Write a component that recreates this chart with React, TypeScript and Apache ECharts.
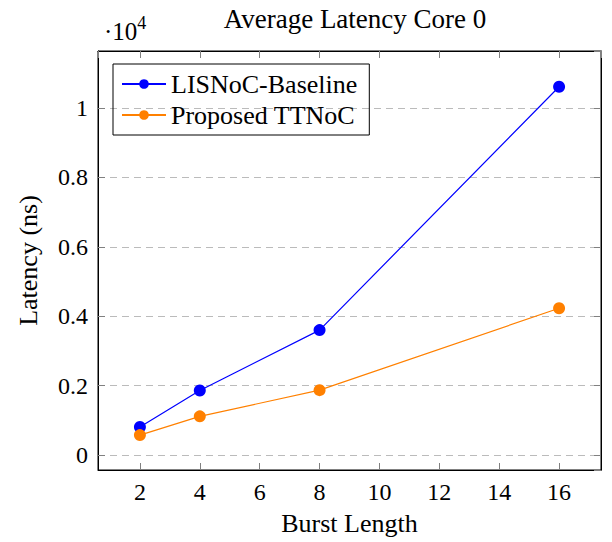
import React, { useEffect, useRef } from "react";
import * as echarts from "echarts";

const burstLengths = [2, 4, 8, 16];
const baselineLatency = [810, 1860, 3600, 10610];
const proposedLatency = [575, 1115, 1870, 4230];
const seriesNames = ["LISNoC-Baseline", "Proposed TTNoC"];
const titleText = "Average Latency Core 0";
const xName = "Burst Length";
const yName = "Latency (ns)";

const FONT = "'Liberation Serif', 'Times New Roman', serif";

export default function App() {
  const ref = useRef<HTMLDivElement>(null);
  useEffect(() => {
    document.body.style.margin = "0";
    if (!ref.current) return;
    const chart = echarts.init(ref.current, undefined, { renderer: "svg" });
    const xMin = 0.6, xMax = 17.4, yMin = -430, yMax = 11640;
    const tickStyle = { show: true, inside: true, length: 7, lineStyle: { color: "#808080", width: 1 } };
    const xFmt = (v: number) => (Math.abs(v - Math.round(v)) < 1e-6 && Math.round(v) % 2 === 0 ? String(Math.round(v)) : "");
    const yFmt = (v: number) => (Math.abs(v % 2000) < 1e-6 ? String(Math.round(v / 100) / 100) : "");
    chart.setOption({
      animation: false,
      textStyle: { fontFamily: FONT },
      title: {
        text: titleText,
        left: 350,
        textAlign: "center",
        top: 0,
        textStyle: { fontFamily: FONT, fontSize: 27, fontWeight: "normal", color: "#000" },
      },
      graphic: [
        {
          type: "text",
          left: 104,
          top: 14,
          style: {
            text: "{a|·10}{b|4}",
            rich: {
              a: { fontFamily: FONT, fontSize: 25, fill: "#000", verticalAlign: "bottom" },
              b: { fontFamily: FONT, fontSize: 18, fill: "#000", verticalAlign: "top", padding: [0, 0, 12, 0] },
            },
          },
        },
      ],
      legend: {
        orient: "vertical",
        left: 113,
        top: 64,
        data: seriesNames,
        borderColor: "#000",
        borderWidth: 1,
        borderRadius: 0,
        padding: [7, 12, 7, 8],
        itemGap: 5,
        itemWidth: 44,
        itemHeight: 12,
        textStyle: { fontFamily: FONT, fontSize: 26, color: "#000" },
      },
      grid: { left: 98, right: 11, top: 51, bottom: 72, show: true, borderColor: "#000", borderWidth: 1, containLabel: false },
      xAxis: [
        {
          type: "value",
          min: xMin,
          max: xMax,
          splitNumber: 8,
          name: xName,
          nameLocation: "middle",
          nameGap: 40,
          nameTextStyle: { fontFamily: FONT, fontSize: 26, color: "#000" },
          axisLine: { show: true, onZero: false, lineStyle: { color: "#000" } },
          axisTick: tickStyle,
          axisLabel: { show: true, showMinLabel: false, showMaxLabel: false, margin: 10, formatter: xFmt, fontFamily: FONT, fontSize: 24, color: "#000" },
          splitLine: { show: false },
        },
        {
          type: "value",
          position: "top",
          min: xMin,
          max: xMax,
          splitNumber: 8,
          axisLine: { show: true, onZero: false, lineStyle: { color: "#000" } },
          axisTick: tickStyle,
          axisLabel: { show: false },
          splitLine: { show: false },
        },
      ],
      yAxis: [
        {
          type: "value",
          min: yMin,
          max: yMax,
          splitNumber: 6,
          name: yName,
          nameLocation: "middle",
          nameGap: 57,
          nameTextStyle: { fontFamily: FONT, fontSize: 26, color: "#000" },
          axisLine: { show: true, onZero: false, lineStyle: { color: "#000" } },
          axisTick: tickStyle,
          axisLabel: { show: true, showMinLabel: false, showMaxLabel: false, margin: 10, formatter: yFmt, fontFamily: FONT, fontSize: 24, color: "#000" },
          splitLine: { show: true, lineStyle: { color: "#bbbbbb", width: 1, type: [7, 5] } },
        },
        {
          type: "value",
          position: "right",
          min: yMin,
          max: yMax,
          splitNumber: 6,
          axisLine: { show: true, onZero: false, lineStyle: { color: "#000" } },
          axisTick: tickStyle,
          axisLabel: { show: false },
          splitLine: { show: false },
        },
      ],
      series: [
        {
          name: seriesNames[0],
          type: "line",
          data: burstLengths.map((x, i) => [x, baselineLatency[i]]),
          symbol: "circle",
          symbolSize: 12,
          color: "#0000ff",
          lineStyle: { width: 1.2, color: "#0000ff" },
          itemStyle: { color: "#0000ff" },
        },
        {
          name: seriesNames[1],
          type: "line",
          data: burstLengths.map((x, i) => [x, proposedLatency[i]]),
          symbol: "circle",
          symbolSize: 12,
          color: "#ff8000",
          lineStyle: { width: 1.2, color: "#ff8000" },
          itemStyle: { color: "#ff8000" },
        },
      ],
    });
    return () => chart.dispose();
  }, []);
  return <div ref={ref} style={{ width: 612, height: 542 }} />;
}
